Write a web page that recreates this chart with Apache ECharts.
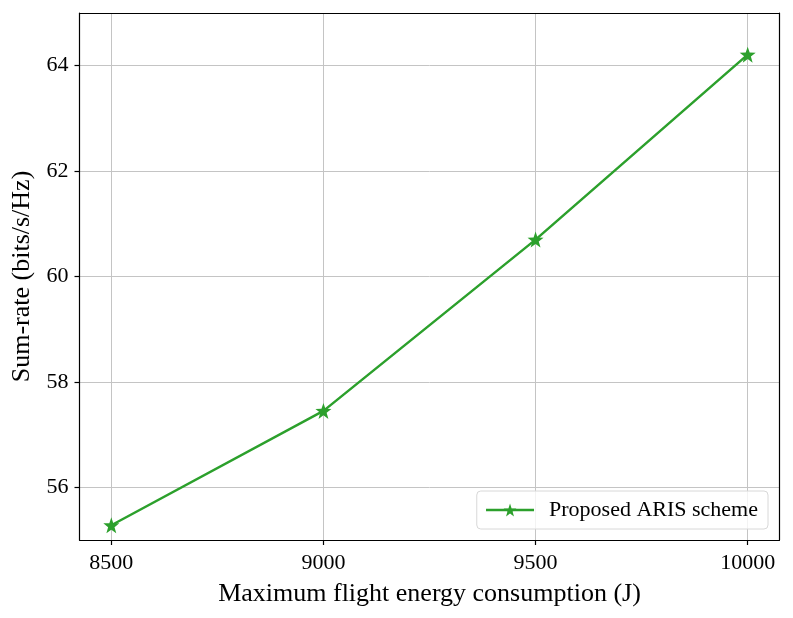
<!DOCTYPE html>
<html><head><meta charset="utf-8">
<script src="https://cdn.jsdelivr.net/npm/echarts@6/dist/echarts.min.js"></script>
<style>html,body{margin:0;padding:0;background:#fff}#c{width:793px;height:618px}</style>
</head><body><div id="c"></div>
<script>
const energy = [8500, 9000, 9500, 10000];
const sumRate = [55.28, 57.45, 60.70, 64.21];
const xTicks = [8500, 9000, 9500, 10000];
const yTicks = [56, 58, 60, 62, 64];
const seriesName = 'Proposed ARIS scheme';
const FONT = '"Liberation Serif", "Times New Roman", serif';
const chart = echarts.init(document.getElementById('c'), null, {renderer: 'canvas'});
const frame = {show: true, lineStyle: {color: '#000', width: 1.2}};
chart.setOption({
  animation: false,
  backgroundColor: '#fff',
  grid: {left: 79.5, top: 13, right: 13.5, bottom: 78, containLabel: false},
  xAxis: [{
    type: 'value', min: 8425, max: 10075,
    name: 'Maximum flight energy consumption (J)', nameLocation: 'middle', nameGap: 41,
    nameTextStyle: {fontFamily: FONT, fontSize: 26, color: '#000'},
    axisLine: frame,
    axisTick: {show: true, inside: false, length: 5, lineStyle: {color: '#000', width: 1.2}, customValues: xTicks},
    axisLabel: {fontFamily: FONT, fontSize: 22, color: '#000', margin: 12, customValues: xTicks, formatter: v => String(v)},
    splitLine: {show: true, lineStyle: {color: '#c4c4c4', width: 1}}
  }, {
    type: 'value', position: 'top', min: 8425, max: 10075,
    axisLine: frame, axisTick: {show: false}, axisLabel: {show: false}, splitLine: {show: false}
  }],
  yAxis: [{
    type: 'value', min: 55, max: 65,
    name: 'Sum-rate (bits/s/Hz)', nameLocation: 'middle', nameGap: 44,
    nameTextStyle: {fontFamily: FONT, fontSize: 26, color: '#000'},
    axisLine: frame,
    axisTick: {show: true, inside: false, length: 5, lineStyle: {color: '#000', width: 1.2}, customValues: yTicks},
    axisLabel: {fontFamily: FONT, fontSize: 22, color: '#000', margin: 11, customValues: yTicks, formatter: v => String(v)},
    splitLine: {show: true, lineStyle: {color: '#c4c4c4', width: 1}}
  }, {
    type: 'value', position: 'right', min: 55, max: 65,
    axisLine: frame, axisTick: {show: false}, axisLabel: {show: false}, splitLine: {show: false}
  }],
  legend: {
    show: true, right: 25, bottom: 89,
    data: [seriesName],
    itemWidth: 48, itemHeight: 16,
    padding: [8, 10, 8, 8],
    borderColor: '#d8d8d8', borderWidth: 1, borderRadius: 4,
    backgroundColor: 'rgba(255,255,255,0.8)',
    lineStyle: {width: 2.5},
    textStyle: {fontFamily: FONT, fontSize: 22, color: '#000', padding: [0, 0, 0, 10]}
  },
  series: [{
    name: seriesName, type: 'line',
    data: energy.map((e, i) => [e, sumRate[i]]),
    symbol: 'path://M0,-10 L2.35,-3.24 L9.51,-3.09 L3.8,1.24 L5.88,8.09 L0,4 L-5.88,8.09 L-3.8,1.24 L-9.51,-3.09 L-2.35,-3.24 Z',
    symbolSize: 16,
    itemStyle: {color: '#2ca02c'},
    lineStyle: {color: '#2ca02c', width: 2.5}
  }]
});
</script></body></html>
